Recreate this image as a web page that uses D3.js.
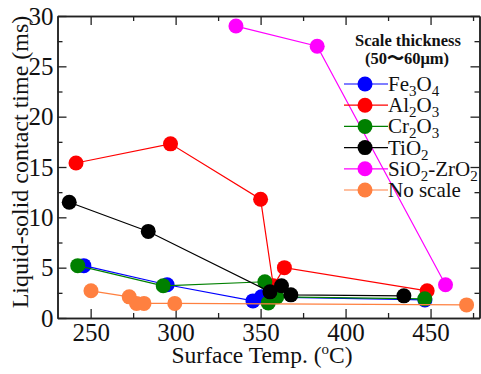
<!DOCTYPE html>
<html>
<head>
<meta charset="utf-8">
<script src="https://cdn.jsdelivr.net/npm/d3@7"></script>
<style>
  body { margin: 0; background: #fff; }
  svg text { font-family: "Liberation Serif", "Times New Roman", Tinos, "DejaVu Serif", serif; fill: #111; }
</style>
</head>
<body>
<svg id="chart" width="481" height="374"></svg>
<script>
// Data (surface temperature in degC, contact time in ms)
const feX = [246, 295, 345.5, 350.5, 446.7];
const feY = [5.2, 3.3, 1.7, 2.1, 1.8];
const alX = [241.4, 297, 350, 357.5, 364, 448];
const alY = [15.4, 17.3, 11.8, 3.2, 5.0, 2.7];
const crX = [242.4, 292.7, 352.5, 354.5, 359.5, 446.6];
const crY = [5.2, 3.2, 3.6, 1.5, 2.1, 1.9];
const tiX = [237.4, 283.9, 355.5, 362.3, 367.8, 434.3];
const tiY = [11.5, 8.6, 2.6, 3.2, 2.3, 2.2];
const szX = [335.5, 383.3, 458.8];
const szY = [29.0, 27.0, 3.3];
const noX = [250.2, 272.7, 277, 281.4, 299.5, 471.2];
const noY = [2.7, 2.1, 1.45, 1.45, 1.45, 1.3];

const seriesNames = ["Fe3O4", "Al2O3", "Cr2O3", "TiO2", "SiO2-ZrO2", "No scale"];
const seriesColors = ["#0000ff", "#ff0000", "#008000", "#000000", "#ff00ff", "#ff8040"];
const xTicks = [250, 300, 350, 400, 450];
const xMinor = [275, 325, 375, 425, 475];
const yTicks = [0, 5, 10, 15, 20, 25, 30];
const yMinor = [2.5, 7.5, 12.5, 17.5, 22.5, 27.5];

const series = [
  [feX, feY], [alX, alY], [crX, crY], [tiX, tiY], [szX, szY], [noX, noY]
].map((s, i) => ({
  name: seriesNames[i],
  color: seriesColors[i],
  points: s[0].map((x, j) => ({ x: x, y: s[1][j] }))
}));

const serif = '"Liberation Serif", "Times New Roman", Tinos, "DejaVu Serif", serif';

// layout
const mLeft = 57.5, mRight = 479.5, mTop = 16, mBottom = 318;

const svg = d3.select("#chart");

const x = d3.scaleLinear().domain([230.5, 478.8]).range([mLeft, mRight]);
const y = d3.scaleLinear().domain([0, 30]).range([mBottom, mTop]);

// axes: all ticks point inward
function styleAxis(g) {
  g.attr("font-family", serif);
  g.selectAll("path.domain").attr("stroke", "#222").attr("stroke-width", 1.5);
  g.selectAll(".tick line").attr("stroke", "#222").attr("stroke-width", 1.3);
}

svg.append("g")
  .attr("transform", `translate(0,${mBottom})`)
  .call(d3.axisBottom(x).tickValues(xTicks).tickSizeInner(-9).tickSizeOuter(0))
  .call(styleAxis)
  .call(g => g.selectAll("text").attr("font-size", 25).attr("y", 23).attr("dy", 0).attr("fill", "#111"));
svg.append("g")
  .attr("transform", `translate(0,${mBottom})`)
  .call(d3.axisBottom(x).tickValues(xMinor).tickSizeInner(-5).tickSizeOuter(0).tickFormat(""))
  .call(styleAxis);

svg.append("g")
  .attr("transform", `translate(0,${mTop})`)
  .call(d3.axisTop(x).tickValues(xTicks).tickSizeInner(-9).tickSizeOuter(0).tickFormat(""))
  .call(styleAxis);
svg.append("g")
  .attr("transform", `translate(0,${mTop})`)
  .call(d3.axisTop(x).tickValues(xMinor).tickSizeInner(-5).tickSizeOuter(0).tickFormat(""))
  .call(styleAxis);

svg.append("g")
  .attr("transform", `translate(${mLeft},0)`)
  .call(d3.axisLeft(y).tickValues(yTicks).tickSizeInner(-9).tickSizeOuter(0).tickPadding(4))
  .call(styleAxis)
  .call(g => g.selectAll("text").attr("font-size", 25).attr("fill", "#111"));
svg.append("g")
  .attr("transform", `translate(${mLeft},0)`)
  .call(d3.axisLeft(y).tickValues(yMinor).tickSizeInner(-5).tickSizeOuter(0).tickFormat(""))
  .call(styleAxis);

svg.append("g")
  .attr("transform", `translate(${mRight},0)`)
  .call(d3.axisRight(y).tickValues(yTicks).tickSizeInner(-9).tickSizeOuter(0).tickFormat(""))
  .call(styleAxis);
svg.append("g")
  .attr("transform", `translate(${mRight},0)`)
  .call(d3.axisRight(y).tickValues(yMinor).tickSizeInner(-5).tickSizeOuter(0).tickFormat(""))
  .call(styleAxis);

// axis titles
const xt = svg.append("text")
  .attr("x", 262)
  .attr("y", 363)
  .attr("text-anchor", "middle")
  .attr("font-family", serif)
  .attr("font-size", 23.5);
xt.append("tspan").text("Surface Temp. (");
xt.append("tspan").attr("font-size", 15).attr("dy", -9).text("o");
xt.append("tspan").attr("dy", 9).text("C)");

svg.append("text")
  .attr("transform", `translate(28,162) rotate(-90)`)
  .attr("text-anchor", "middle")
  .attr("font-family", serif)
  .attr("font-size", 24)
  .text("Liquid-solid contact time (ms)");

// lines and markers
const line = d3.line().x(d => x(d.x)).y(d => y(d.y));

const sg = svg.append("g").selectAll("g")
  .data(series)
  .enter().append("g");

sg.append("path")
  .attr("d", d => line(d.points))
  .attr("fill", "none")
  .attr("stroke", d => d.color)
  .attr("stroke-width", 1.2);

sg.selectAll("circle")
  .data(d => d.points.map(p => ({ ...p, color: d.color })))
  .enter().append("circle")
  .attr("cx", d => x(d.x))
  .attr("cy", d => y(d.y))
  .attr("r", 7.5)
  .attr("fill", d => d.color);

// legend
const lg = svg.append("g").attr("font-family", serif);
lg.append("text")
  .attr("x", 408).attr("y", 46)
  .attr("text-anchor", "middle")
  .attr("font-size", 16.5).attr("font-weight", "bold")
  .text("Scale thickness");
lg.append("text")
  .attr("x", 407).attr("y", 64)
  .attr("text-anchor", "middle")
  .attr("font-size", 16.5).attr("font-weight", "bold")
  .text("(50〜60μm)");

// label pieces: [text, isSubscript]
const legendParts = [
  [["Fe", 0], ["3", 1], ["O", 0], ["4", 1]],
  [["Al", 0], ["2", 1], ["O", 0], ["3", 1]],
  [["Cr", 0], ["2", 1], ["O", 0], ["3", 1]],
  [["TiO", 0], ["2", 1]],
  [["SiO", 0], ["2", 1], ["-ZrO", 0], ["2", 1]],
  [["No scale", 0]]
];

const items = lg.selectAll("g.item")
  .data(series)
  .enter().append("g")
  .attr("class", "item")
  .attr("transform", (d, i) => `translate(0,${84 + i * 21.2})`);

items.append("line")
  .attr("x1", 344).attr("x2", 388)
  .attr("stroke", d => d.color).attr("stroke-width", 1.2);
items.append("circle")
  .attr("cx", 365).attr("r", 7.5)
  .attr("fill", d => d.color);
items.each(function (d, i) {
  const t = d3.select(this).append("text")
    .attr("x", 388).attr("y", 7)
    .attr("font-size", 21);
  let shifted = false;
  legendParts[i].forEach(([s, sub]) => {
    const ts = t.append("tspan").text(s);
    if (sub && !shifted) { ts.attr("font-size", 15).attr("dy", 5); shifted = true; }
    else if (!sub && shifted) { ts.attr("dy", -5); shifted = false; }
    else if (sub) ts.attr("font-size", 15);
  });
});
</script>
</body>
</html>
